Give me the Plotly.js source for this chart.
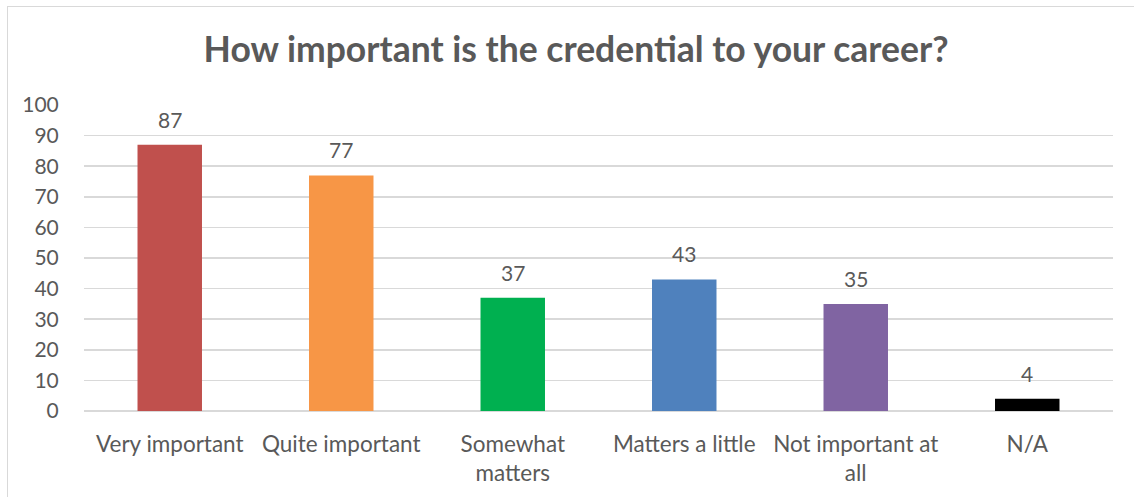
<!DOCTYPE html>
<html>
<head>
<meta charset="utf-8">
<script src="https://cdn.plot.ly/plotly-3.0.1.min.js"></script>
<style>
  html, body { margin: 0; padding: 0; background: #fff; }
  #wrap { position: relative; width: 1134px; height: 497px; overflow: hidden; }
  #chart { width: 1134px; height: 497px; }
  #frame { position: absolute; left: 7px; top: 6px; width: 1200px; height: 600px;
           border-left: 1.5px solid #D9D9D9; border-top: 1.5px solid #D9D9D9; pointer-events: none; }
</style>
</head>
<body>
<div id="wrap">
  <div id="chart"></div>
  <div id="frame"></div>
</div>
<script>
const categories = ["Very important", "Quite important", "Somewhat<br>matters", "Matters a little", "Not important at<br>all", "N/A"];
const values = [87, 77, 37, 43, 35, 4];
const barColors = ["#C0504D", "#F79646", "#00B050", "#4F81BD", "#8064A2", "#000000"];
const yTicks = [0, 10, 20, 30, 40, 50, 60, 70, 80, 90, 100];
const chartTitle = "How important is the credential to your career?";

const textColor = "#595959";
const fontFamily = "Lato, 'Open Sans', sans-serif";

const trace = {
  type: "bar",
  x: categories,
  y: values,
  marker: { color: barColors },
  hoverinfo: "x+y"
};

const annotations = categories.map((c, i) => ({
  x: c, y: values[i], xref: "x", yref: "y",
  text: String(values[i]),
  showarrow: false,
  yanchor: "bottom",
  yshift: 11,
  font: { family: fontFamily, size: 21, color: textColor }
}));

const layout = {
  width: 1134, height: 497,
  margin: { l: 84, r: 21, t: 105, b: 86 },
  paper_bgcolor: "#ffffff",
  plot_bgcolor: "#ffffff",
  showlegend: false,
  bargap: 0.624,
  title: {
    text: "<b>" + chartTitle + "</b>",
    font: { family: fontFamily, size: 35.5, color: textColor },
    xref: "container", x: 0.508, xanchor: "center",
    yref: "container", y: 1 - 50 / 497, yanchor: "middle"
  },
  xaxis: {
    type: "category",
    showgrid: false,
    showline: false,
    zeroline: false,
    ticks: "outside", ticklen: 13, tickcolor: "rgba(0,0,0,0)",
    tickfont: { family: fontFamily, size: 22.5, color: textColor },
    tickangle: 0
  },
  yaxis: {
    range: [0, 100],
    tickvals: yTicks,
    ticktext: yTicks.map(String),
    showgrid: true,
    gridcolor: "#D9D9D9",
    gridwidth: 1.5,
    zeroline: true,
    zerolinecolor: "#D9D9D9",
    zerolinewidth: 1.5,
    showline: false,
    ticks: "outside", ticklen: 20, tickcolor: "rgba(0,0,0,0)",
    tickfont: { family: fontFamily, size: 21, color: textColor }
  },
  annotations: annotations
};

Plotly.newPlot("chart", [trace], layout, { displayModeBar: false, staticPlot: true });
</script>
</body>
</html>
